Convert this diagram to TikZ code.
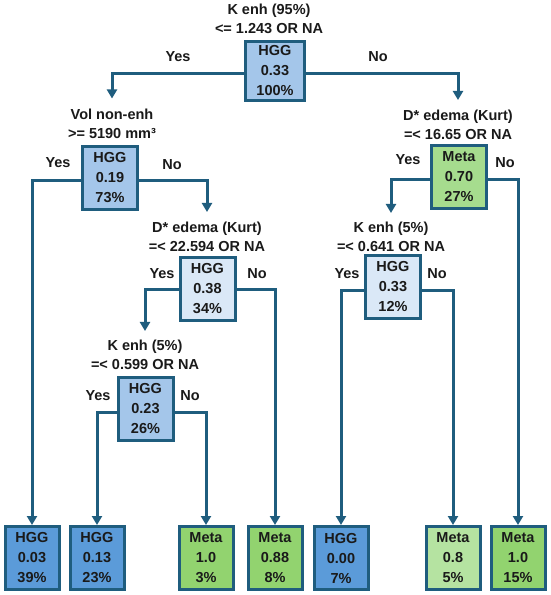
\documentclass[tikz,border=0pt]{standalone}
\usepackage{fontspec}
\setmainfont{Liberation Sans}
\usetikzlibrary{arrows.meta}
\definecolor{edge}{HTML}{1F5D7E}
\definecolor{bluemid}{HTML}{A4C6EA}
\definecolor{bluelight}{HTML}{DAE8F7}
\definecolor{bluedark}{HTML}{5B9BD9}
\definecolor{greenmid}{HTML}{92D36F}
\definecolor{greenlight}{HTML}{B5E3A1}
\definecolor{greenint}{HTML}{A6DC8E}
\definecolor{txt}{HTML}{1A1A1A}
\begin{document}
\begin{tikzpicture}[x=1pt,y=-1pt,
  box/.style={draw=edge,line width=3pt,minimum width=55pt,minimum height=63pt,inner sep=0pt,align=center,font=\fontsize{14.5}{20}\selectfont\bfseries,text=txt},
  leaf/.style={box,minimum width=54pt},
  cond/.style={align=center,inner sep=0pt,font=\fontsize{14.5}{19}\selectfont\bfseries,text=txt},
  yn/.style={inner sep=0pt,font=\fontsize{14.5}{16}\selectfont\bfseries,text=txt},
  conn/.style={draw=edge,line width=3pt,-{Triangle[width=10pt,length=9pt]}},
]
\useasboundingbox[fill=white] (0,0) rectangle (550,595);

% root
\node[box,fill=bluemid,minimum width=59pt,minimum height=59pt] (R) at (275,70.5) {\rule{0pt}{0pt}\raisebox{-1pt}{}HGG\\0.33\\100\%};
\node[cond] (Rlab) at (269,19) {K enh (95\%)\\<= 1.243 OR NA};
\node[yn] (Ryes) at (178,57) {Yes};
\node[yn] (Rno) at (378,57) {No};

% A
\node[cond] (Alab) at (112,123.5) {Vol non-enh\\>= 5190 mm³};
\node[box,fill=bluemid] (A) at (110,178) {HGG\\0.19\\73\%};
\node[yn] (Ayes) at (58,163) {Yes};
\node[yn] (Ano) at (172,165) {No};

% B
\node[cond] (Blab) at (207,237) {D* edema (Kurt)\\=< 22.594 OR NA};
\node[box,fill=bluelight] (B) at (207.5,288.5) {HGG\\0.38\\34\%};
\node[yn] (Byes) at (162,274) {Yes};
\node[yn] (Bno) at (257,274) {No};

% C
\node[cond] (Clab) at (145,355) {K enh (5\%)\\=< 0.599 OR NA};
\node[box,fill=bluemid] (C) at (145.5,408.5) {HGG\\0.23\\26\%};
\node[yn] (Cyes) at (98,396) {Yes};
\node[yn] (Cno) at (190,396) {No};

% D
\node[cond] (Dlab) at (458,125) {D* edema (Kurt)\\=< 16.65 OR NA};
\node[box,fill=greenint] (D) at (459,176.5) {Meta\\0.70\\27\%};
\node[yn] (Dyes) at (408,160) {Yes};
\node[yn] (Dno) at (505,163) {No};

% E
\node[cond] (Elab) at (391,237) {K enh (5\%)\\=< 0.641 OR NA};
\node[box,fill=bluelight] (E) at (393,286.5) {HGG\\0.33\\12\%};
\node[yn] (Eyes) at (347,274) {Yes};
\node[yn] (Eno) at (437,274) {No};

% leaves
\node[leaf,fill=bluedark] (L1) at (32,558) {HGG\\0.03\\39\%};
\node[leaf,fill=bluedark] (L2) at (97,558) {HGG\\0.13\\23\%};
\node[leaf,fill=greenmid] (L3) at (206,558) {Meta\\1.0\\3\%};
\node[leaf,fill=greenmid] (L4) at (275,558) {Meta\\0.88\\8\%};
\node[leaf,fill=bluedark] (L5) at (341,558) {HGG\\0.00\\7\%};
\node[leaf,fill=greenlight] (L6) at (453,558) {Meta\\0.8\\5\%};
\node[leaf,fill=greenmid] (L7) at (518,558) {Meta\\1.0\\15\%};

% connectors
\draw[conn] ([yshift=-2.5pt]R.west) -| ([yshift=10pt]Alab.north);
\draw[conn] ([yshift=-2.5pt]R.east) -| ([yshift=10pt]Dlab.north);
\draw[conn] ([yshift=-2pt]A.west) -| (L1.north);
\draw[conn] ([yshift=-2pt]A.east) -| ([yshift=10pt]Blab.north);
\draw[conn] ([yshift=-0.5pt]B.west) -| ([yshift=9pt]Clab.north);
\draw[conn] ([yshift=-0.5pt]B.east) -| (L4.north);
\draw[conn] ([yshift=-3.5pt]C.west) -| (L2.north);
\draw[conn] ([yshift=-3.5pt]C.east) -| (L3.north);
\draw[conn] ([yshift=-2.5pt]D.west) -| ([yshift=9pt]Elab.north);
\draw[conn] ([yshift=-2.5pt]D.east) -| (L7.north);
\draw[conn] ([yshift=-3.5pt]E.west) -| (L5.north);
\draw[conn] ([yshift=-3.5pt]E.east) -| (L6.north);
\end{tikzpicture}
\end{document}
